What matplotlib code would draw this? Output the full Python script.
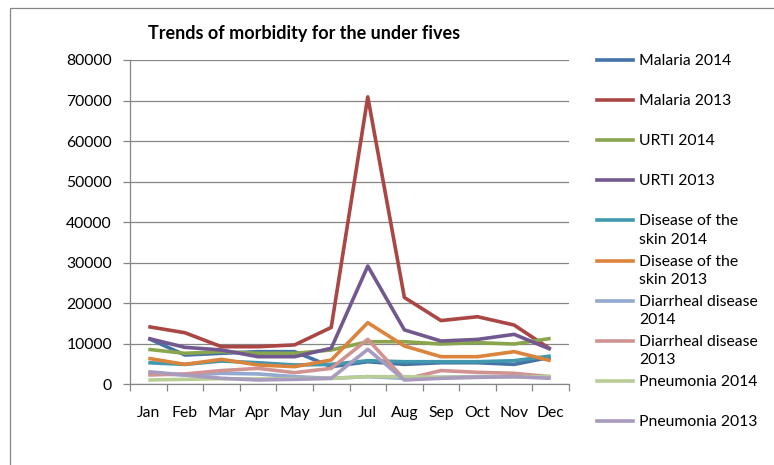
import matplotlib.pyplot as plt
from matplotlib.lines import Line2D
from matplotlib.patches import Rectangle

plt.rcParams['font.family'] = ['Lato', 'DejaVu Sans']

months = ['Jan', 'Feb', 'Mar', 'Apr', 'May', 'Jun', 'Jul', 'Aug', 'Sep', 'Oct', 'Nov', 'Dec']

malaria_2014 = [11300, 7200, 7620, 8030, 8030, 4320, 5550, 4890, 5300, 5300, 4890, 6660]
malaria_2013 = [14200, 12700, 9250, 9250, 9700, 14000, 70900, 21400, 15700, 16650, 14600, 8600]
urti_2014 = [8600, 7620, 8030, 7620, 7620, 8440, 10490, 10490, 9920, 10250, 9920, 11300]
urti_2013 = [11300, 9100, 8440, 6790, 6790, 8860, 29150, 13400, 10650, 11050, 12300, 8600]
skin_2014 = [5300, 4890, 5710, 5300, 4740, 4890, 5800, 5550, 5550, 5550, 5800, 6960]
skin_2013 = [6380, 4890, 6130, 4740, 4320, 5970, 15180, 9430, 6790, 6790, 8030, 5800]
diarrheal_2014 = [2690, 2270, 2690, 2530, 1860, 1450, 1860, 1450, 1700, 1860, 1860, 1700]
diarrheal_2013 = [2270, 2530, 3360, 3910, 2850, 3910, 11070, 1200, 3360, 2930, 2690, 1860]
pneumonia_2014 = [1040, 1200, 1370, 1290, 1370, 1450, 1860, 1860, 1700, 1700, 1860, 1860]
pneumonia_2013 = [3090, 2270, 1450, 1040, 1200, 1450, 8600, 1040, 1450, 1700, 1860, 1450]

labels = ['Malaria 2014', 'Malaria 2013', 'URTI 2014', 'URTI 2013',
          'Disease of the\nskin 2014', 'Disease of the\nskin 2013',
          'Diarrheal disease\n2014', 'Diarrheal disease\n2013',
          'Pneumonia 2014', 'Pneumonia 2013']
series = [malaria_2014, malaria_2013, urti_2014, urti_2013, skin_2014, skin_2013,
          diarrheal_2014, diarrheal_2013, pneumonia_2014, pneumonia_2013]
colors = ['#4572A7', '#AA4643', '#89A54E', '#71588F', '#4198AF', '#DB843D',
          '#93A9CF', '#D19392', '#B9CD96', '#A99BBD']

W, H = 774, 465
fig = plt.figure(figsize=(W / 100, H / 100), dpi=100)
ax = fig.add_axes([130 / W, 1 - 384.2 / H, (569 - 130) / W, (384.2 - 60) / H])

x = range(len(months))
for vals, c in zip(series, colors):
    ax.plot(x, vals, color=c, lw=2.6, solid_joinstyle='round', solid_capstyle='butt')

grey = '#868686'
ax.set_ylim(0, 80000)
ax.set_xlim(-0.5, 11.5)
ax.set_yticks(range(0, 80001, 10000))
ax.yaxis.grid(True, color=grey, lw=0.9)
ax.set_axisbelow(True)
ax.set_xticks(list(x))
ax.set_xticklabels(months)
ax.set_xticks([i - 0.5 for i in range(13)], minor=True)
ax.tick_params(axis='x', which='major', length=0, pad=16, labelsize=11.3, colors='black')
ax.tick_params(axis='x', which='minor', length=5, color=grey, width=0.9)
ax.tick_params(axis='y', length=5, color=grey, width=0.9, pad=8, labelsize=11.3)
for s in ['top', 'right']:
    ax.spines[s].set_visible(False)
for s in ['left', 'bottom']:
    ax.spines[s].set_color(grey)
    ax.spines[s].set_linewidth(0.9)

fig.text(148 / W, 1 - 33 / H, 'Trends of morbidity for the under fives',
         fontsize=13, fontweight='bold', va='center', ha='left')

# legend drawn by hand so that two-line labels hang below the handle
for i, (lab, c) in enumerate(zip(labels, colors)):
    yy = 1 - (60 + i * 40.1) / H
    fig.add_artist(Line2D([597 / W, 633 / W], [yy, yy], color=c, lw=2.6,
                          transform=fig.transFigure))
    fig.text(639 / W, yy + 6 / H, lab, fontsize=11.3, va='top', ha='left',
             linespacing=1.42)

fig.add_artist(Rectangle((10 / W, -0.1), 1.2, 1 - 8 / H + 0.1, fill=False,
                         edgecolor=grey, lw=0.9, transform=fig.transFigure))

fig.savefig('out.png', dpi=100)
